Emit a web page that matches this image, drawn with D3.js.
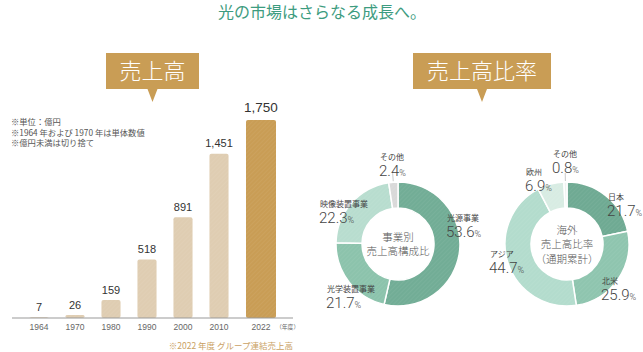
<!DOCTYPE html>
<html>
<head>
<meta charset="utf-8">
<script src="https://cdn.jsdelivr.net/npm/d3@7"></script>
<style>
  body { margin: 0; background: #fff; }
  text { font-family: "Noto Sans CJK JP", "Noto Sans", sans-serif; }
  .num { font-family: "Liberation Sans", Arial, sans-serif; }
  .pct { font-family: Roboto, "Liberation Sans", Arial, sans-serif; }
</style>
</head>
<body>
<div id="chart"></div>
<script>
// data
const years = ['1964', '1970', '1980', '1990', '2000', '2010', '2022'];
const sales = [7, 26, 159, 518, 891, 1451, 1750];
const notes = ['※単位：億円', '※1964 年および 1970 年は単体数値', '※億円未満は切り捨て'];
const segNames = ['光源事業', '光学装置事業', '映像装置事業', 'その他'];
const segShares = [53.6, 21.7, 22.3, 2.4];
const regionNames = ['日本', '北米', 'アジア', '欧州', 'その他'];
const regionShares = [21.7, 25.9, 44.7, 6.9, 0.8];

const width = 643, height = 352;
const gold = '#c99d55', beige = '#dfcdb2';

const svg = d3.select('#chart').append('svg')
  .attr('width', width).attr('height', height);

// faint diagonal hatching used on bars and slices
const pat = svg.append('defs').append('pattern')
  .attr('id', 'hatch').attr('patternUnits', 'userSpaceOnUse')
  .attr('width', 3).attr('height', 3)
  .attr('patternTransform', 'rotate(45)');
pat.append('line').attr('x1', 0).attr('y1', 0).attr('x2', 0).attr('y2', 3)
  .attr('stroke', '#fff').attr('stroke-width', 1).attr('stroke-opacity', 0.1);

svg.append('text')
  .attr('x', 322).attr('y', 18)
  .attr('text-anchor', 'middle')
  .attr('fill', '#3d9c80')
  .attr('font-size', 16)
  .text('光の市場はさらなる成長へ。');

// badges
function badge(cx, w, label) {
  let g = svg.append('g');
  g.append('path')
    .attr('d', `M${cx - w / 2},53 H${cx + w / 2} V89 H${cx + 5} L${cx},102 L${cx - 5},89 H${cx - w / 2} Z`)
    .attr('fill', gold);
  g.append('text')
    .attr('x', cx).attr('y', 79)
    .attr('text-anchor', 'middle')
    .attr('fill', '#fff')
    .attr('font-size', 22)
    .attr('font-weight', 300)
    .text(label);
}
badge(152.5, 93, '売上高');
badge(482, 138, '売上高比率');

// ---- bar chart ----
const base = 318;
let x = d3.scaleBand().domain(years).range([21, 273]).paddingInner(0.47).paddingOuter(0.235);
let y = d3.scaleLinear().domain([0, 1750]).range([base, 120]);
const last = years[years.length - 1];
const lastShift = 6, lastW = 30;

function barX(d) {
  return d.year === last ? x(d.year) + x.bandwidth() / 2 + lastShift - lastW / 2 : x(d.year);
}
function barW(d) { return d.year === last ? lastW : x.bandwidth(); }
function centerX(d) { return barX(d) + barW(d) / 2; }

let bars = years.map((yr, i) => ({ year: yr, value: sales[i] }));

svg.selectAll('text.note')
  .data(notes)
  .enter().append('text')
  .attr('class', 'note')
  .attr('x', 11).attr('y', (d, i) => 125 + i * 10.5)
  .attr('font-size', 8.3)
  .attr('fill', '#555')
  .text(d => d);

let barG = svg.selectAll('g.bar')
  .data(bars)
  .enter().append('g').attr('class', 'bar');

barG.append('rect')
  .attr('x', barX)
  .attr('y', d => y(d.value))
  .attr('width', barW)
  .attr('height', d => base - y(d.value))
  .attr('rx', 2)
  .attr('fill', d => d.year === last ? gold : beige);
barG.append('rect')
  .attr('x', barX)
  .attr('y', d => y(d.value))
  .attr('width', barW)
  .attr('height', d => base - y(d.value))
  .attr('rx', 2)
  .attr('fill', 'url(#hatch)');

barG.append('text')
  .attr('class', 'num')
  .attr('x', centerX)
  .attr('y', d => y(d.value) - (d.year === last ? 8 : 6.5))
  .attr('text-anchor', 'middle')
  .attr('font-size', d => d.year === last ? 13.5 : 11)
  .attr('fill', '#333')
  .text(d => d3.format(',')(d.value));

svg.append('line')
  .attr('x1', 12).attr('x2', 293)
  .attr('y1', base).attr('y2', base)
  .attr('stroke', '#999');

barG.append('text')
  .attr('class', 'num')
  .attr('x', centerX)
  .attr('y', 329.5)
  .attr('text-anchor', 'middle')
  .attr('font-size', 8.5)
  .attr('fill', '#666')
  .text(d => d.year);

svg.append('text')
  .attr('x', 276).attr('y', 328.5)
  .attr('font-size', 5.8)
  .attr('fill', '#666')
  .text('（年度）');

svg.append('text')
  .attr('x', 293).attr('y', 349)
  .attr('text-anchor', 'end')
  .attr('font-size', 8.5)
  .attr('fill', '#caa163')
  .text('※2022 年度 グループ連結売上高');

// ---- donuts ----
const rOut = 62, rIn = 36;
let pie = d3.pie().sort(null).value(d => d.share);
let arc = d3.arc().innerRadius(rIn).outerRadius(rOut);

function donut(cx, cy, names, shares, colors, spots, centerLines) {
  let g = svg.append('g').attr('transform', `translate(${cx},${cy})`);
  let arcs = pie(names.map((n, i) => ({ name: n, share: shares[i] })));

  g.selectAll('path.slice')
    .data(arcs)
    .enter().append('path')
    .attr('class', 'slice')
    .attr('d', arc)
    .attr('fill', (d, i) => colors[i])
    .attr('stroke', '#fff')
    .attr('stroke-width', 1.5);
  g.selectAll('path.hatch')
    .data(arcs)
    .enter().append('path')
    .attr('class', 'hatch')
    .attr('d', arc)
    .attr('fill', 'url(#hatch)');

  // leader for the thin "other" slice
  let o = arcs[arcs.length - 1];
  let a = (o.startAngle + o.endAngle) / 2;
  g.append('line')
    .attr('x1', Math.sin(a) * (rOut + 1)).attr('y1', -Math.cos(a) * (rOut + 1))
    .attr('x2', Math.sin(a) * (rOut + 9)).attr('y2', -Math.cos(a) * (rOut + 9))
    .attr('stroke', '#bbb').attr('stroke-width', 0.8);

  let lab = g.selectAll('g.lab')
    .data(arcs)
    .enter().append('g').attr('class', 'lab')
    .attr('transform', (d, i) => `translate(${spots[i][0]},${spots[i][1]})`);
  lab.append('text')
    .attr('font-size', 8)
    .attr('fill', '#444')
    .text(d => d.data.name);
  let pct = lab.append('text')
    .attr('class', 'pct')
    .attr('x', -1)
    .attr('y', 16)
    .attr('fill', '#444')
    .attr('font-weight', 300);
  pct.append('tspan').attr('font-size', 15).text(d => d.data.share.toFixed(1));
  pct.append('tspan').attr('font-size', 9).text('%');

  g.selectAll('text.center')
    .data(centerLines)
    .enter().append('text')
    .attr('class', 'center')
    .attr('text-anchor', 'middle')
    .attr('y', (d, i) => (i - (centerLines.length - 1) / 2) * 14.5 + 4)
    .attr('font-size', 10.5)
    .attr('font-weight', 300)
    .attr('fill', '#555')
    .text(d => d);
}

donut(398, 244, segNames, segShares,
  ['#72ad96', '#8cc3ac', '#b8ddcf', '#d9d9d9'],
  [[49, -23], [-71, 48], [-78, -37], [-18, -84]],
  ['事業別', '売上高構成比']);

donut(567, 244, regionNames, regionShares,
  ['#6faa93', '#8fc5af', '#b3dccd', '#d8ece3', '#eef3f0'],
  [[41, -44], [35, 40], [-77, 13], [-41, -69], [-14, -87]],
  ['海外', '売上高比率', '（通期累計）']);
</script>
</body>
</html>
